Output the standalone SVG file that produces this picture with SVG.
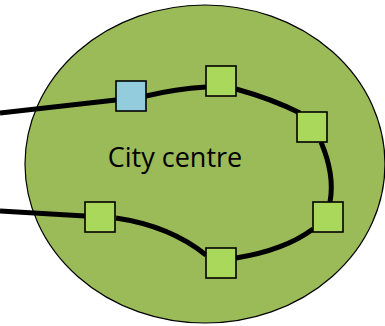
<svg xmlns="http://www.w3.org/2000/svg" width="385" height="326" viewBox="0 0 385 326">
<style>
.zone{fill:#9BBB59;stroke:#000;stroke-width:1.2}
.st{fill:#AAD85A;stroke:#000;stroke-width:1.6}
.hub{fill:#93CDDD;stroke:#000;stroke-width:1.6}
.ln{fill:none;stroke:#000;stroke-width:5}
.lbl{font-family:"Open Sans","Liberation Sans",sans-serif;font-size:27px;fill:#000}
</style>
<rect width="385" height="326" fill="#fff"/>
<g id="city">
<ellipse class="zone" cx="205" cy="164" rx="180" ry="159"/>
<text class="lbl" x="175" y="167" text-anchor="middle">City centre</text>
</g>
<g id="connectors">
<path class="ln" d="M0,113 L116,100"/>
<path class="ln" d="M146,96 Q175,89 206,87"/>
<path class="ln" d="M236,89 Q272,99 300,113"/>
<path class="ln" d="M321,142 Q335,175 330,202"/>
<path class="ln" d="M313,229 Q285,250 236,258"/>
<path class="ln" d="M206,255 Q170,226 116,218"/>
<path class="ln" d="M85,216 L0,211"/>
</g>
<g id="s1"><rect class="hub" x="116" y="81" width="30" height="30"/></g>
<g id="s2"><rect class="st" x="206" y="66" width="30" height="30"/></g>
<g id="s3"><rect class="st" x="297" y="112" width="30" height="30"/></g>
<g id="s4"><rect class="st" x="313" y="202" width="30" height="30"/></g>
<g id="s5"><rect class="st" x="206" y="248" width="30" height="30"/></g>
<g id="s6"><rect class="st" x="85" y="202" width="30" height="30"/></g>
</svg>
